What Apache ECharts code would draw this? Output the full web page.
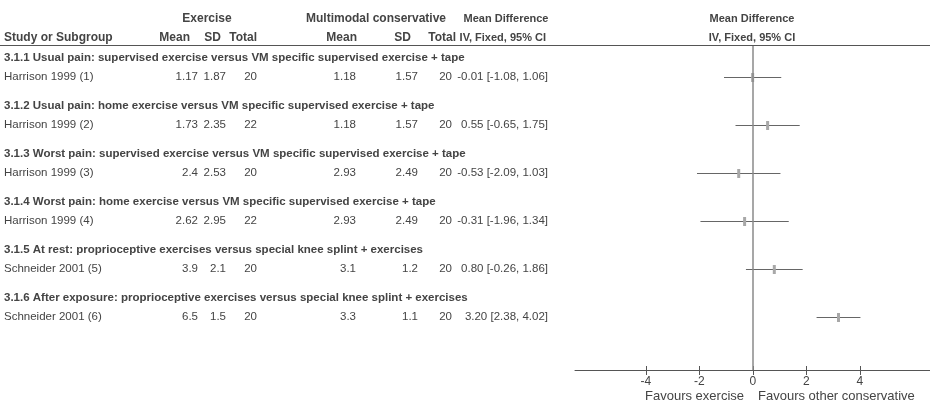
<!DOCTYPE html>
<html>
<head>
<meta charset="utf-8">
<script src="https://cdn.jsdelivr.net/npm/echarts@6/dist/echarts.min.js"></script>
<style>
  html, body { margin: 0; padding: 0; background: #fff; }
  #chart { width: 930px; height: 403px; }
</style>
</head>
<body>
<div id="chart"></div>
<script>
// Forest plot: exercise vs multimodal conservative treatment, pain outcomes
const subgroups = [
  '3.1.1 Usual pain: supervised exercise versus VM specific supervised exercise + tape',
  '3.1.2 Usual pain: home exercise versus VM specific supervised exercise + tape',
  '3.1.3 Worst pain: supervised exercise versus VM specific supervised exercise + tape',
  '3.1.4 Worst pain: home exercise versus VM specific supervised exercise + tape',
  '3.1.5 At rest: proprioceptive exercises versus special knee splint + exercises',
  '3.1.6 After exposure: proprioceptive exercises versus special knee splint + exercises'
];
const studies = ['Harrison 1999 (1)', 'Harrison 1999 (2)', 'Harrison 1999 (3)', 'Harrison 1999 (4)', 'Schneider 2001 (5)', 'Schneider 2001 (6)'];
const exMean = ['1.17', '1.73', '2.4', '2.62', '3.9', '6.5'];
const exSD = ['1.87', '2.35', '2.53', '2.95', '2.1', '1.5'];
const exTotal = [20, 22, 20, 22, 20, 20];
const mcMean = ['1.18', '1.18', '2.93', '2.93', '3.1', '3.3'];
const mcSD = ['1.57', '1.57', '2.49', '2.49', '1.2', '1.1'];
const mcTotal = [20, 20, 20, 20, 20, 20];
const meanDiff = [-0.01, 0.55, -0.53, -0.31, 0.80, 3.20];
const ciLow = [-1.08, -0.65, -2.09, -1.96, -0.26, 2.38];
const ciHigh = [1.06, 1.75, 1.03, 1.34, 1.86, 4.02];
const tickValues = [-4, -2, 0, 2, 4];
const favourLeft = 'Favours exercise';
const favourRight = 'Favours other conservative';

const FONT = '"Liberation Sans", Arial, sans-serif';
const TXT = '#444';
const fmt = v => v.toFixed(2);

const chart = echarts.init(document.getElementById('chart'), null, { renderer: 'canvas' });

// table columns: right edges of the numeric columns
const cols = {
  name: 4,
  exMean: 198, exSD: 226, exTotal: 257,
  mcMean: 356, mcSD: 418, mcTotal: 452,
  ci: 548
};

function txt(x, y, s, align, bold, size) {
  return {
    type: 'text', x: x, y: y,
    style: { text: s, fill: TXT, font: (bold ? 'bold ' : '') + (size || 11.5) + 'px ' + FONT, align: align, verticalAlign: 'middle' }
  };
}

const rowData = studies.map((s, i) => [0, i + 1, i]);

const option = {
  animation: false,
  backgroundColor: '#fff',
  grid: { left: 575, right: 0, top: 46, bottom: 33, containLabel: false },
  xAxis: [{
    type: 'value', min: -6.65, max: 6.62, position: 'bottom',
    axisLine: { show: true, onZero: false, lineStyle: { color: '#555', width: 1 } },
    axisTick: { show: true, length: 5, customValues: tickValues, lineStyle: { color: '#555' } },
    axisLabel: { show: true, customValues: tickValues, color: TXT, fontFamily: FONT, fontSize: 12, margin: 6 },
    splitLine: { show: false }
  }, {
    type: 'value', min: -6.65, max: 6.62, position: 'bottom', offset: 0,
    axisLine: { show: false },
    axisTick: { show: true, inside: true, length: 4, customValues: tickValues, lineStyle: { color: '#555' } },
    axisLabel: { show: false },
    splitLine: { show: false }
  }],
  yAxis: {
    type: 'value', inverse: true, min: 0.36, max: 7.11,
    show: false
  },
  series: [
    // table rows: subgroup heading and study values
    {
      type: 'custom',
      coordinateSystem: 'cartesian2d',
      data: rowData,
      clip: false,
      silent: true,
      renderItem: function (params, api) {
        const i = api.value(2);
        const yStudy = api.coord([0, api.value(1)])[1];
        const yHead = api.coord([0, api.value(1) - 0.4])[1];
        const c = [
          txt(4, yHead, subgroups[i], 'left', true),
          txt(cols.name, yStudy, studies[i], 'left'),
          txt(cols.exMean, yStudy, exMean[i], 'right'),
          txt(cols.exSD, yStudy, exSD[i], 'right'),
          txt(cols.exTotal, yStudy, String(exTotal[i]), 'right'),
          txt(cols.mcMean, yStudy, mcMean[i], 'right'),
          txt(cols.mcSD, yStudy, mcSD[i], 'right'),
          txt(cols.mcTotal, yStudy, String(mcTotal[i]), 'right'),
          txt(cols.ci, yStudy, fmt(meanDiff[i]) + ' [' + fmt(ciLow[i]) + ', ' + fmt(ciHigh[i]) + ']', 'right')
        ];
        return { type: 'group', children: c };
      }
    },
    // confidence intervals and point estimates
    {
      type: 'custom',
      coordinateSystem: 'cartesian2d',
      data: studies.map((s, i) => [meanDiff[i], i + 1, ciLow[i], ciHigh[i]]),
      silent: true,
      renderItem: function (params, api) {
        const y = api.value(1);
        const p0 = api.coord([api.value(2), y]);
        const p1 = api.coord([api.value(3), y]);
        const pm = api.coord([api.value(0), y]);
        const yy = Math.round(p0[1]) + 0.5;
        return {
          type: 'group',
          children: [
            { type: 'line', shape: { x1: p0[0], y1: yy, x2: p1[0], y2: yy }, style: { stroke: '#666', lineWidth: 1 } },
            { type: 'rect', shape: { x: pm[0] - 1.5, y: yy - 4.5, width: 3, height: 9 }, style: { fill: '#a8a8a8' } }
          ]
        };
      },
      markLine: {
        silent: true,
        symbol: 'none',
        label: { show: false },
        lineStyle: { color: '#8a8a8a', width: 1.5, type: 'solid' },
        data: [{ xAxis: 0 }]
      },
      z: 3
    }
  ],
  graphic: [
    txt(207, 19, 'Exercise', 'center', true, 12),
    txt(376, 19, 'Multimodal conservative', 'center', true, 12),
    txt(506, 19, 'Mean Difference', 'center', true, 11),
    txt(4, 38, 'Study or Subgroup', 'left', true, 12),
    txt(190, 38, 'Mean', 'right', true, 12),
    txt(221, 38, 'SD', 'right', true, 12),
    txt(257, 38, 'Total', 'right', true, 12),
    txt(357, 38, 'Mean', 'right', true, 12),
    txt(411, 38, 'SD', 'right', true, 12),
    txt(456, 38, 'Total', 'right', true, 12),
    txt(546, 38, 'IV, Fixed, 95% CI', 'right', true, 11),
    txt(752, 19, 'Mean Difference', 'center', true, 11),
    txt(752, 38, 'IV, Fixed, 95% CI', 'center', true, 11),
    { type: 'line', shape: { x1: 0, y1: 45.5, x2: 930, y2: 45.5 }, style: { stroke: '#555', lineWidth: 1 } },
    txt(744, 396, favourLeft, 'right', false, 13),
    txt(758, 396, favourRight, 'left', false, 13)
  ]
};

chart.setOption(option);
</script>
</body>
</html>
